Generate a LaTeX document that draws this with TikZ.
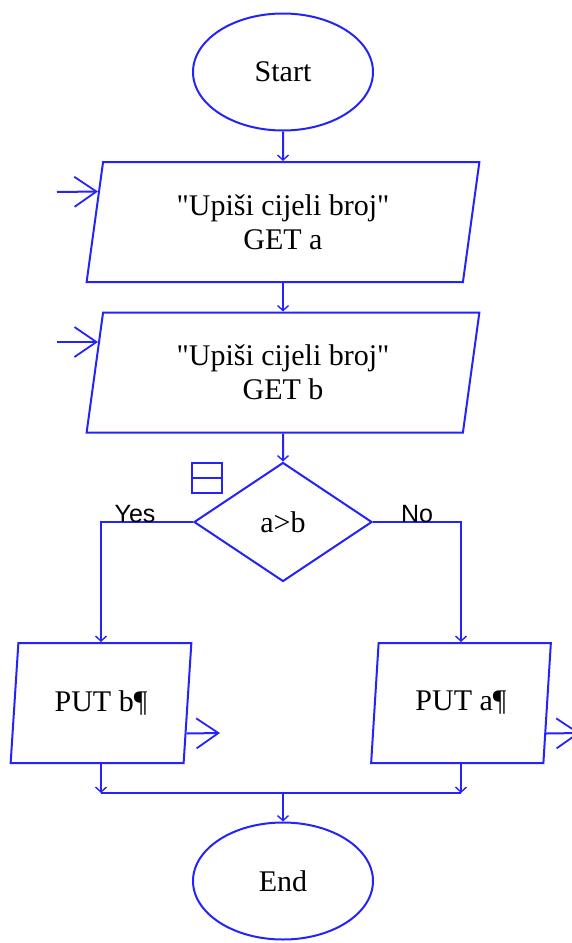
\documentclass[tikz,border=0pt]{standalone}
\usepackage{fontspec}
\setmainfont{Liberation Serif}[Ligatures=TeXOff]
\newfontfamily\yesnofont{Liberation Sans}
\usetikzlibrary{shapes.geometric,arrows.meta,calc}
\definecolor{flowblue}{RGB}{35,35,250}

\begin{document}
\begin{tikzpicture}[x=1pt,y=-1pt,
      every node/.style={font=\fontsize{30}{34}\selectfont,align=center},
      flow/.style={draw=flowblue,line width=2pt},
      terminal/.style={flow,ellipse,minimum width=180pt,minimum height=117pt,inner sep=0pt},
      io/.style={flow,trapezium,trapezium left angle=80,trapezium right angle=100,
                 trapezium stretches=true,minimum height=120pt,inner sep=0pt},
      decision/.style={flow,diamond,minimum width=178pt,minimum height=119pt,inner sep=0pt},
      link/.style={flow,-{Straight Barb[length=5pt,width=11pt,line width=1.4pt]}},
      inout/.style={flow,-{Straight Barb[length=22pt,width=30pt,line width=1.8pt]}},
      yesno/.style={font=\yesnofont\fontsize{25}{28}\selectfont,inner sep=0pt,anchor=base}]
   \useasboundingbox (0, 0) rectangle (572, 943);
   \clip (0, 0) rectangle (572, 943);
   % blocks
   \node[terminal] (start) at (283, 72) {Start};
   \node[io,minimum width=393pt] (geta) at (283, 222) {"Upiši cijeli broj"\\GET a};
   \node[io,minimum width=393pt] (getb) at (283, 372.5) {"Upiši cijeli broj"\\GET b};
   \node[decision] (test) at (283, 522) {a>b};
   \node[io,minimum width=181pt] (putb) at (101, 703) {PUT b¶};
   \node[io,minimum width=181pt] (puta) at (461, 703) {PUT a¶};
   \node[terminal] (end) at (283, 881) {End};
   \coordinate (join) at (283, 793);
   \coordinate (geta in) at (57, 192);
   \coordinate (getb in) at (57, 342);
   \coordinate (putb out) at (220, 733);
   \coordinate (puta out) at (580, 733);
   % marker beside the decision
   \node[draw=flowblue,line width=1.5pt,minimum width=30pt,minimum height=30pt,inner sep=0pt] (mark) at (207, 478) {};
   \draw[draw=flowblue,line width=1.5pt] (mark.west) -- (mark.east);
   % main line
   \draw[link] (start.south) -- (geta.north);
   \draw[link] (geta.south) -- (getb.north);
   \draw[link] (getb.south) -- (test.north);
   \draw[link] (test.west) -| node[yesno,pos=0.315] (yes) {Yes} (putb.north);
   \draw[link] (test.east) -| node[yesno,pos=0.25] (no) {No} (puta.north);
   \draw[link] (putb.south) -- (putb.south |- join);
   \draw[link] (puta.south) -- (puta.south |- join);
   \draw[flow] (putb.south |- join) -- (puta.south |- join);
   \draw[link] (join) -- (end.north);
   % input and output
   \draw[inout] (geta in) -- ($(geta.top left corner)!0.25!(geta.bottom left corner)$);
   \draw[inout] (getb in) -- ($(getb.top left corner)!0.25!(getb.bottom left corner)$);
   \draw[inout] ($(putb.top right corner)!0.75!(putb.bottom right corner)$) -- (putb out);
   \draw[inout] ($(puta.top right corner)!0.75!(puta.bottom right corner)$) -- (puta out);
\end{tikzpicture}
\end{document}
